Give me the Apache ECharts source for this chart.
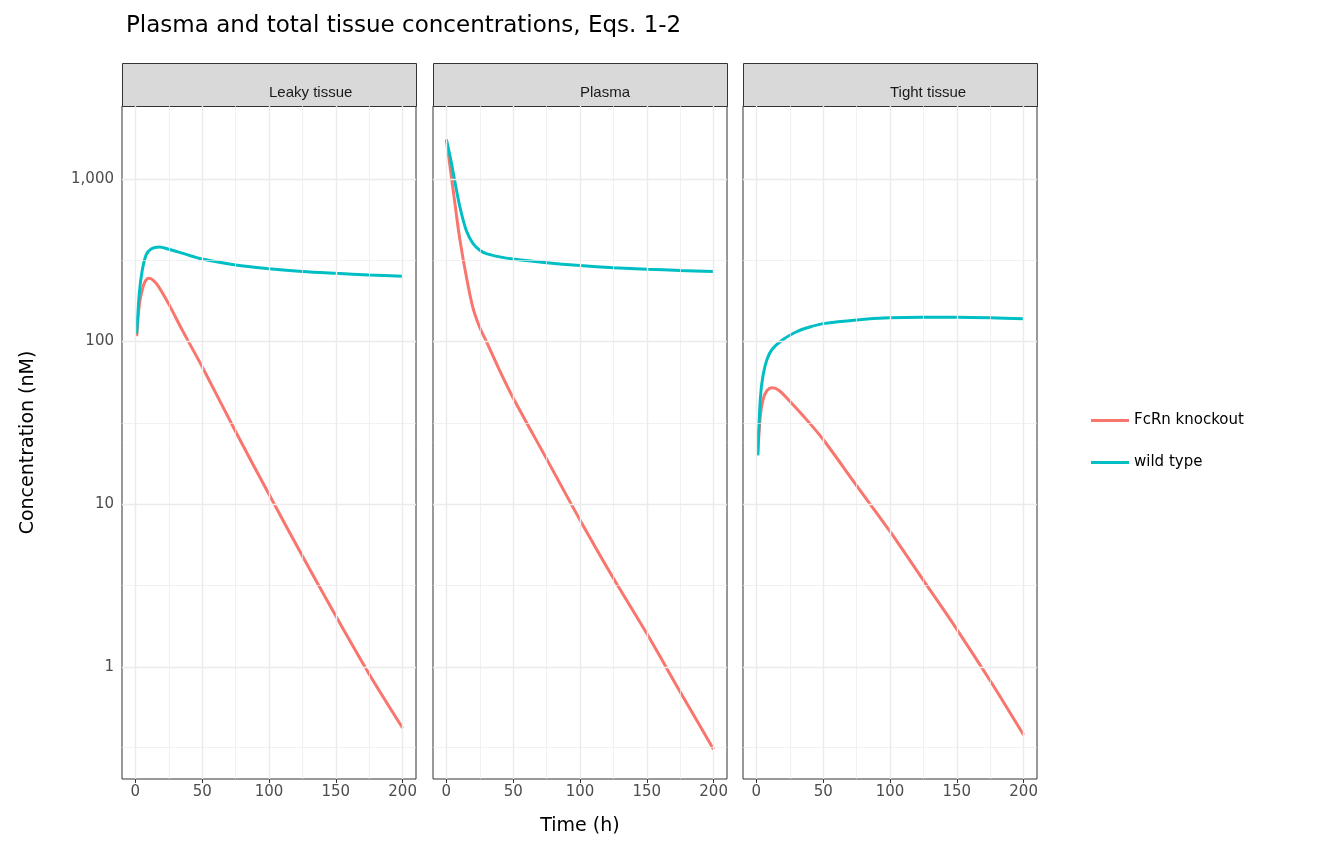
<!DOCTYPE html>
<html lang="en">
<head>
    <meta charset="UTF-8">
    <title>Plasma and total tissue concentrations</title>
    <style>
        html, body { margin: 0; padding: 0; background: #fff; }
        #main1 { width: 1344px; height: 864px; }
    </style>
</head>
<body>
    <div id="main1"></div>
</body>
<script src="https://cdn.jsdelivr.net/npm/echarts@6/dist/echarts.min.js"></script>
<script>
    var myChart = echarts.init(document.getElementById('main1'));
    // [time, conc]
    var data = {
        'Leaky tissue': {
            ko: [[1, 108], [3, 170], [5, 205], [7, 232], [10, 245], [13, 240], [17, 220], [25, 170], [35, 118], [50, 70], [75, 28], [100, 11.5], [125, 4.8], [150, 2.05], [175, 0.9], [200, 0.42]],
            wt: [[1, 112], [3, 200], [5, 270], [8, 340], [12, 372], [18, 382], [25, 370], [35, 350], [50, 322], [75, 296], [100, 281], [125, 270], [150, 263], [175, 257], [200, 252]]
        },
        'Plasma': {
            ko: [[0, 1750], [3, 1150], [6, 750], [10, 430], [15, 250], [20, 160], [25, 122], [30, 100], [40, 66], [50, 45], [75, 19], [100, 8], [125, 3.5], [150, 1.6], [175, 0.7], [200, 0.31]],
            wt: [[0, 1750], [3, 1350], [6, 1000], [10, 680], [15, 480], [20, 400], [25, 365], [30, 348], [40, 332], [50, 322], [75, 306], [100, 294], [125, 285], [150, 279], [175, 274], [200, 270]]
        },
        'Tight tissue': {
            ko: [[1, 20], [3, 35], [5, 44], [8, 50], [12, 52], [17, 50], [25, 43], [35, 35], [50, 25], [75, 13], [100, 6.8], [125, 3.4], [150, 1.7], [175, 0.82], [200, 0.38]],
            wt: [[1, 20], [3, 45], [5, 62], [8, 78], [12, 90], [20, 103], [30, 115], [40, 123], [50, 129], [75, 136], [100, 140], [125, 141], [150, 141], [175, 140], [200, 138]]
        }
    };
    var panels = ['Leaky tissue', 'Plasma', 'Tight tissue'];
    var lefts = [122, 433, 743];
    var pw = 294, panelTop = 106, ph = 673;
    var yMin = 0.204, yMax = 2813;

    var grid = [], xAxis = [], yAxis = [], series = [], graphic = [];
    panels.forEach(function(p, i) {
        grid.push({ left: lefts[i], top: panelTop, width: pw, height: ph, show: true, borderColor: '#333', borderWidth: 1, backgroundColor: '#fff' });
        xAxis.push({
            type: 'value', gridIndex: i, min: -10, max: 210,
            splitLine: { show: false },
            axisLine: { show: false },
            axisTick: { show: true, customValues: [0, 50, 100, 150, 200], length: 4, lineStyle: { color: '#333' } },
            axisLabel: { customValues: [0, 50, 100, 150, 200], color: '#4d4d4d', fontSize: 15, margin: 6 },
            name: i === 1 ? 'Time (h)' : '', nameLocation: 'middle', nameGap: 38,
            nameTextStyle: { fontSize: 19, color: '#000' }
        });
        yAxis.push({
            type: 'log', logBase: 10, gridIndex: i, min: yMin, max: yMax,
            splitLine: { show: false },
            axisLine: { show: false },
            axisTick: { show: i === 0, length: 4, lineStyle: { color: '#333' } },
            axisLabel: { show: i === 0, color: '#4d4d4d', fontSize: 15, showMinLabel: false, showMaxLabel: false, margin: 8 },
            name: i === 0 ? 'Concentration (nM)' : '', nameLocation: 'middle', nameGap: 84,
            nameTextStyle: { fontSize: 19, color: '#000' }
        });
        var gl = [];
        [25, 75, 125, 175].forEach(function(v) { gl.push({ xAxis: v, lineStyle: { color: '#ebebeb', width: 0.7, type: 'solid' } }); });
        [0.316, 3.16, 31.6, 316].forEach(function(v) { gl.push({ yAxis: v, lineStyle: { color: '#ebebeb', width: 0.7, type: 'solid' } }); });
        [0, 50, 100, 150, 200].forEach(function(v) { gl.push({ xAxis: v, lineStyle: { color: '#ebebeb', width: 1.4, type: 'solid' } }); });
        [1, 10, 100, 1000].forEach(function(v) { gl.push({ yAxis: v, lineStyle: { color: '#ebebeb', width: 1.4, type: 'solid' } }); });
        series.push({
            type: 'line', xAxisIndex: i, yAxisIndex: i, data: [], silent: true,
            markLine: { symbol: 'none', silent: true, animation: false, label: { show: false }, data: gl }
        });
        series.push({
            name: 'FcRn knockout', type: 'line', xAxisIndex: i, yAxisIndex: i, data: data[p].ko,
            smooth: 0.3, showSymbol: false, lineStyle: { color: '#F8766D', width: 3 }, itemStyle: { color: '#F8766D' }
        });
        series.push({
            name: 'wild type', type: 'line', xAxisIndex: i, yAxisIndex: i, data: data[p].wt,
            smooth: 0.3, showSymbol: false, lineStyle: { color: '#00BFC4', width: 3 }, itemStyle: { color: '#00BFC4' }
        });
        graphic.push({
            type: 'rect', left: lefts[i], top: 63, shape: { width: pw, height: 43 },
            style: { fill: '#d9d9d9', stroke: '#333', lineWidth: 1 }
        });
        graphic.push({
            type: 'text', left: lefts[i] + pw / 2, top: 85,
            style: { text: p, fill: '#1a1a1a', fontSize: 15, textAlign: 'center', textVerticalAlign: 'middle' }
        });
    });

    myChart.setOption({
        animation: false,
        textStyle: { fontFamily: 'DejaVu Sans' },
        title: { text: 'Plasma and total tissue concentrations, Eqs. 1-2', left: 121, top: 10, textStyle: { fontSize: 23, fontWeight: 'normal', color: '#000' } },
        legend: {
            data: ['FcRn knockout', 'wild type'], orient: 'vertical', left: 1086, top: 408,
            itemWidth: 38, itemHeight: 3, itemGap: 27, icon: 'rect',
            textStyle: { fontSize: 15, color: '#000' }
        },
        grid: grid, xAxis: xAxis, yAxis: yAxis, series: series, graphic: graphic
    });
</script>
</html>
